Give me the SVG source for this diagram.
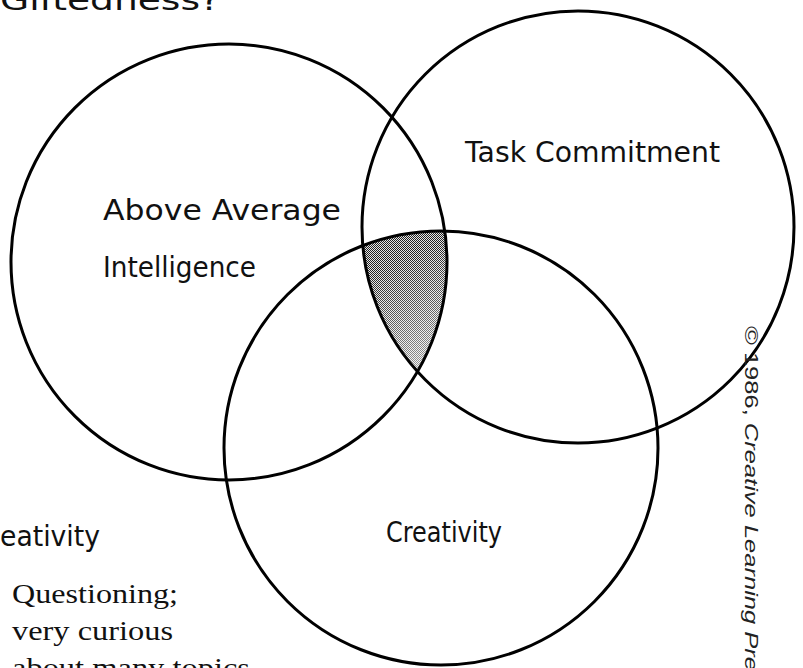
<svg xmlns="http://www.w3.org/2000/svg" width="803" height="668" viewBox="0 0 803 668">
  <style>
    .ring { fill: none; stroke: #000; stroke-width: 3; }
    .hand { font-family: "DejaVu Sans", "Noto Sans", sans-serif; font-size: 28px; fill: #111; }
    .serif { font-family: "Liberation Serif", "DejaVu Serif", serif; font-size: 28px; fill: #111; }
    .credit { font-family: "Liberation Sans", Arial, sans-serif; font-size: 18px; fill: #222; }
  </style>
  <defs>
    <pattern id="stipple" width="2" height="2" patternUnits="userSpaceOnUse">
      <rect width="2" height="2" fill="#e6e6e6"/>
      <rect x="0" y="0" width="1" height="1" fill="#222"/>
      <rect x="1" y="1" width="1" height="1" fill="#222"/>
    </pattern>
    <linearGradient id="fade" x1="0" y1="0" x2="0.3" y2="1">
      <stop offset="0.35" stop-color="#fff" stop-opacity="0"/>
      <stop offset="1" stop-color="#fff" stop-opacity="0.55"/>
    </linearGradient>
    <clipPath id="clipB"><circle cx="578" cy="227" r="216"/></clipPath>
    <clipPath id="clipC"><circle cx="441" cy="448" r="217"/></clipPath>
  </defs>
  <rect width="803" height="668" fill="#fff"/>

  <text class="hand" x="0" y="10" font-size="38" textLength="220" lengthAdjust="spacingAndGlyphs">Giftedness?</text>

  <g id="overlap">
    <g clip-path="url(#clipB)">
      <g clip-path="url(#clipC)">
        <circle cx="229" cy="262" r="218" fill="url(#stipple)"/>
        <rect x="340" y="220" width="120" height="170" fill="url(#fade)"/>
      </g>
    </g>
  </g>

  <g id="ring-intelligence">
    <circle class="ring" cx="229" cy="262" r="218"/>
    <text class="hand" x="103" y="220" textLength="238" lengthAdjust="spacingAndGlyphs">Above Average</text>
    <text class="hand" x="103" y="277" textLength="153" lengthAdjust="spacingAndGlyphs">Intelligence</text>
  </g>

  <g id="ring-task">
    <circle class="ring" cx="578" cy="227" r="216"/>
    <text class="hand" x="465" y="162" textLength="255" lengthAdjust="spacingAndGlyphs">Task Commitment</text>
  </g>

  <g id="ring-creativity">
    <circle class="ring" cx="441" cy="448" r="217"/>
    <text class="hand" x="386" y="542" textLength="116" lengthAdjust="spacingAndGlyphs">Creativity</text>
  </g>

  <g id="connectors"/>

  <g id="side-note">
    <text class="hand" x="0" y="546" textLength="100" lengthAdjust="spacingAndGlyphs">eativity</text>
    <text class="serif" x="12" y="603" textLength="166" lengthAdjust="spacingAndGlyphs">Questioning;</text>
    <text class="serif" x="12" y="640" textLength="161" lengthAdjust="spacingAndGlyphs">very curious</text>
    <text class="serif" x="12" y="677" textLength="238" lengthAdjust="spacingAndGlyphs">about many topics</text>
  </g>

  <text class="credit" transform="translate(745,326) rotate(90)" textLength="345" lengthAdjust="spacingAndGlyphs">© 1986, <tspan font-style="italic">Creative Learning Pre</tspan></text>
</svg>
